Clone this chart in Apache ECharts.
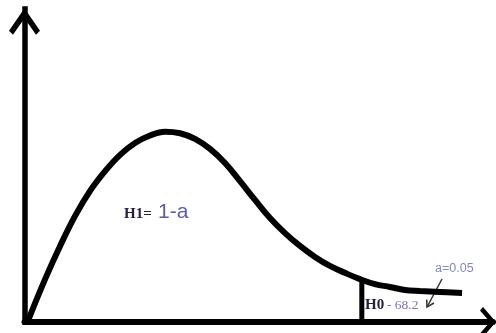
<!DOCTYPE html>
<html>
<head>
<meta charset="utf-8">
<script src="https://cdn.jsdelivr.net/npm/echarts@6/dist/echarts.min.js"></script>
<style>
html, body { margin: 0; padding: 0; background: #fff; }
#chart { width: 496px; height: 333px; }
</style>
</head>
<body>
<div id="chart"></div>
<script>
// curve (x 0-100, y 0-100)
var curveX = [0.8, 4.4, 7.6, 10.8, 14.0, 17.2, 20.4, 23.6, 26.8, 30.0, 33.2, 36.4, 39.6, 42.8, 46.0,
	49.2, 52.4, 55.6, 58.8, 62.0, 65.2, 68.4, 71.6, 74.8, 78.0, 81.2, 84.4, 88.7, 93.4];
var curveY = [0.6, 13.7, 24.3, 33.9, 41.9, 48.2, 53.4, 57.2, 59.6, 60.8, 60.3, 58.5, 55.3, 50.8, 45.0,
	39.0, 33.2, 28.4, 24.3, 20.8, 17.9, 15.7, 13.7, 12.1, 11.2, 10.2, 9.9, 9.6, 9.3];
// critical value line
var cutX = [72.0, 72.0];
var cutY = [0, 13.6];
var labels = ['H1=', '1-a', 'H0', '- 68.2', 'a=0.05'];

var myChart;
window.onload = function() {
	var curveData = [];
	for (var i = 0; i < curveX.length; i++) {
		curveData.push([curveX[i], curveY[i]]);
	}
	var cutData = [];
	for (var j = 0; j < cutX.length; j++) {
		cutData.push([cutX[j], cutY[j]]);
	}
	//open chevron arrow heads
	var arrowUp = 'path://M15.5,0 L31,22.5 L27,26.5 L15.5,10 L4,26.5 L0,22.5 Z';
	var arrowRight = 'path://M15,0 L30,13 L26.5,16 L15,6 L3.5,16 L0,13 Z';
	var option = {
		animation: false,
		grid: {
			left: 24.5,
			right: 3,
			top: 9,
			bottom: 11
		},
		xAxis: {
			type: 'value',
			min: 0,
			max: 100,
			axisLine: {
				show: true,
				onZero: false,
				lineStyle: { color: '#000', width: 6 },
				symbol: ['none', arrowRight],
				symbolSize: [30, 16],
				symbolOffset: [0, -5]
			},
			axisTick: { show: false },
			axisLabel: { show: false },
			splitLine: { show: false }
		},
		yAxis: {
			type: 'value',
			min: 0,
			max: 100,
			axisLine: {
				show: true,
				onZero: false,
				lineStyle: { color: '#000', width: 5.5, cap: 'square' },
				symbol: ['none', arrowUp],
				symbolSize: [31, 26.5],
				symbolOffset: [0, -12.5]
			},
			axisTick: { show: false },
			axisLabel: { show: false },
			splitLine: { show: false }
		},
		series: [{
			type: 'line',
			data: curveData,
			smooth: 0.4,
			showSymbol: false,
			lineStyle: { color: '#000', width: 6 }
		}, {
			type: 'line',
			data: cutData,
			showSymbol: false,
			lineStyle: { color: '#000', width: 5 }
		}],
		graphic: [{
			type: 'text', left: 124, top: 207,
			style: { text: labels[0], font: 'bold 15px "Liberation Serif"', fill: '#22223f' }
		}, {
			type: 'text', left: 158, top: 202,
			style: { text: labels[1], font: '21px "Liberation Sans"', fill: '#5b5ba6' }
		}, {
			type: 'text', left: 365, top: 298,
			style: { text: labels[2], font: 'bold 15px "Liberation Serif"', fill: '#22223f' }
		}, {
			type: 'text', left: 387, top: 298,
			style: { text: labels[3], font: '13.5px "Liberation Serif"', fill: '#7474b4' }
		}, {
			type: 'text', left: 435, top: 262,
			style: { text: labels[4], font: '12.5px "Liberation Sans"', fill: '#8686c4' }
		}, {
			type: 'line',
			shape: { x1: 442, y1: 279, x2: 427, y2: 307 },
			style: { stroke: '#333', lineWidth: 1.5 }
		}, {
			type: 'polyline',
			shape: { points: [[434, 303], [427, 307], [426.7, 299.5]] },
			style: { stroke: '#333', lineWidth: 1.5, fill: null }
		}]
	};
	myChart = echarts.init(document.getElementById('chart'));
	myChart.setOption(option);
};
</script>
</body>
</html>
